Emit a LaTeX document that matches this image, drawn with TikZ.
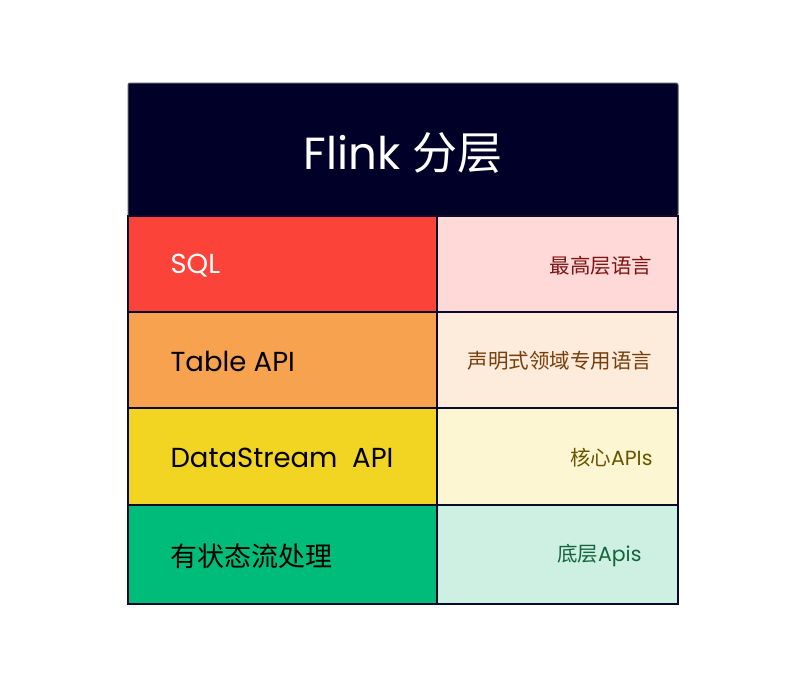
\documentclass[tikz,border=0pt]{standalone}
\usepackage{fontspec}
\setmainfont{Poppins}
\newfontfamily\cjk{Noto Sans CJK SC}
\definecolor{navy}{RGB}{0,0,40}
\definecolor{gridline}{RGB}{10,10,45}
\definecolor{sqlred}{RGB}{252,67,58}
\definecolor{tableorange}{RGB}{246,162,78}
\definecolor{streamyellow}{RGB}{242,212,34}
\definecolor{stategreen}{RGB}{0,188,122}
\definecolor{sqlpale}{RGB}{255,216,216}
\definecolor{tablepale}{RGB}{253,235,220}
\definecolor{streampale}{RGB}{252,246,210}
\definecolor{statepale}{RGB}{205,240,226}
\definecolor{sqlink}{RGB}{125,20,20}
\definecolor{tableink}{RGB}{120,62,10}
\definecolor{streamink}{RGB}{105,85,0}
\definecolor{stateink}{RGB}{20,100,62}
\tikzset{
  cell/.style={draw=gridline,line width=1.6pt},
  layer/.style={anchor=west,font=\fontsize{27.5}{32}\selectfont},
  note/.style={anchor=east,font=\fontsize{20.5}{24}\selectfont},
}
\begin{document}
\begin{tikzpicture}[x=1pt,y=-1pt]
  \useasboundingbox (0,0) rectangle (804,699);
  % Header
  \draw[fill=navy,draw=gray!70!navy,line width=1pt,rounded corners=2pt] (128,83) rectangle (678,216);
  \node[white,font=\fontsize{45}{52}\selectfont] (title) at (403,153) {Flink {\cjk 分层}};
  % Left column
  \fill[sqlred] (128,216) rectangle (437,312);
  \fill[tableorange] (128,312) rectangle (437,408);
  \fill[streamyellow] (128,408) rectangle (437,505);
  \fill[stategreen] (128,505) rectangle (437,604);
  % Right column
  \fill[sqlpale] (437,216) rectangle (678,312);
  \fill[tablepale] (437,312) rectangle (678,408);
  \fill[streampale] (437,408) rectangle (678,505);
  \fill[statepale] (437,505) rectangle (678,604);
  % Grid
  \foreach \y in {312,408,505}
    \draw[cell] (128,\y) -- (678,\y);
  \draw[cell] (437,216) -- (437,604);
  \draw[cell] (128,216) rectangle (678,604);
  % Layer names
  \node[layer,white] (sql) at (167,266) {SQL};
  \node[layer] (table) at (167,361) {Table API};
  \node[layer] (stream) at (167,458) {DataStream\ \ API};
  \node[layer,font=\cjk\fontsize{27}{32}\selectfont] (state) at (167,556) {有状态流处理};
  % Notes
  \node[note,text=sqlink] (sqlnote) at (656,266) {\cjk 最高层语言};
  \node[note,text=tableink] (tablenote) at (656,361) {\cjk 声明式领域专用语言};
  \node[note,text=streamink] (streamnote) at (656,458) {{\cjk 核心}APIs};
  \node[note,text=stateink] (statenote) at (645,556) {{\cjk 底层}Apis};
\end{tikzpicture}
\end{document}
